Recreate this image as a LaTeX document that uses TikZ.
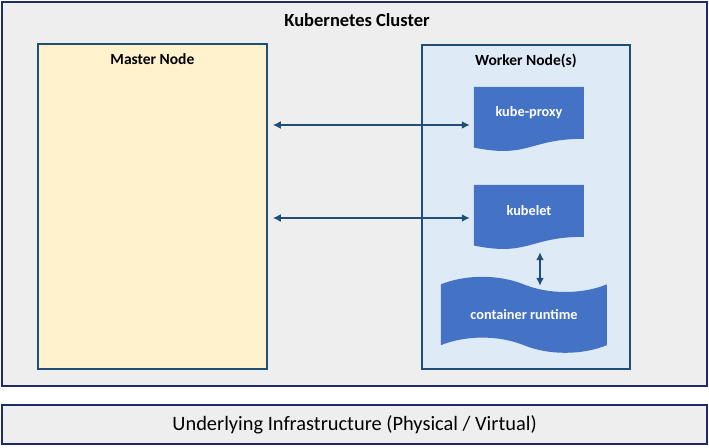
\documentclass[tikz,border=0pt]{standalone}
\usepackage{fontspec}
\setmainfont{Carlito}
\usetikzlibrary{arrows.meta,positioning}

\definecolor{clusterfill}{HTML}{EEEEEE}
\definecolor{navy}{HTML}{1F2A6B}
\definecolor{steel}{HTML}{1F4E79}
\definecolor{masterfill}{HTML}{FFF2CC}
\definecolor{workerfill}{HTML}{DEEBF7}
\definecolor{compblue}{HTML}{4472C4}

% flowchart "document": #1 node, #2 width, #3 height of its text box
\newcommand{\docshape}[3]{%
  \fill[compblue, shift={(#1.north west)}] (0,0) -- (#2,0) -- (#2,#3)
    .. controls (0.5*#2,#3) and (0.5*#2,1.384*#3) .. (0,1.1675*#3) -- cycle;}
% flowchart "punched tape": #1 node, #2 width, #3 height
\newcommand{\tapeshape}[3]{%
  \fill[compblue, shift={(#1.north west)}] (0,0.1*#3)
    .. controls (0.15*#2,-0.0333*#3) and (0.35*#2,-0.0333*#3) .. (0.5*#2,0.1*#3)
    .. controls (0.65*#2,0.2333*#3) and (0.85*#2,0.2333*#3) .. (#2,0.1*#3)
    -- (#2,0.9*#3)
    .. controls (0.85*#2,1.0333*#3) and (0.65*#2,1.0333*#3) .. (0.5*#2,0.9*#3)
    .. controls (0.35*#2,0.7667*#3) and (0.15*#2,0.7667*#3) .. (0,0.9*#3) -- cycle;}

\tikzset{
  panel/.style={draw=navy, line width=2.2pt, fill=clusterfill, anchor=north west, inner sep=0pt},
  nodebox/.style={draw=steel, line width=1.8pt, anchor=north west, inner sep=0pt},
  heading/.style={font=\bfseries\fontsize{15.5}{17}\selectfont, text=black},
  compbox/.style={inner sep=0pt},
  comptext/.style={text=white, font=\bfseries\fontsize{14.3}{16}\selectfont},
  link/.style={draw=steel, line width=1.8pt, {Latex[length=8pt,width=8pt]}-{Latex[length=8pt,width=8pt]}}
}

\begin{document}
\begin{tikzpicture}[x=1pt, y=-1pt]
  \useasboundingbox (0,0) rectangle (709,447);

  % cluster and infrastructure
  \node[panel, minimum width=705pt, minimum height=384pt] (cluster) at (1,1) {};
  \node[font=\bfseries\fontsize{18.5}{21}\selectfont] (clustertitle) at (357,20) {Kubernetes Cluster};
  \node[panel, minimum width=705pt, minimum height=39pt] (infra) at (1,404) {};
  \node[font=\fontsize{20.4}{23}\selectfont] (infratitle) at (infra.center) {Underlying Infrastructure (Physical / Virtual)};

  % master and worker
  \node[nodebox, fill=masterfill, minimum width=229pt, minimum height=325pt] (master) at (37,43) {};
  \node[heading, below=7pt of master.north] (mastertitle) {Master Node};
  \node[nodebox, fill=workerfill, minimum width=208pt, minimum height=324pt] (worker) at (421,44) {};
  \node[heading, below=6pt of worker.north] (workertitle) {Worker Node(s)};

  % worker components
  \node[compbox, minimum width=110pt, minimum height=52pt] (proxy) at (529,113) {};
  \docshape{proxy}{110}{52}
  \node[comptext] (proxylabel) at (proxy.center) {kube-proxy};

  \node[compbox, minimum width=110pt, minimum height=52pt] (kubelet) at (529,211) {};
  \docshape{kubelet}{110}{52}
  \node[comptext] (kubeletlabel) at (kubelet.center) {kubelet};

  \node[compbox, minimum width=166pt, minimum height=76pt] (runtime) at (524,315) {};
  \tapeshape{runtime}{166}{76}
  \node[comptext] (runtimelabel) at (runtime.center) {container runtime};

  % connections
  \draw[link] ([xshift=5pt,yshift=-12pt]master.east |- proxy.west) -- ([xshift=-4pt,yshift=-12pt]proxy.west);
  \draw[link] ([xshift=5pt,yshift=-7pt]master.east |- kubelet.west) -- ([xshift=-4pt,yshift=-7pt]kubelet.west);
  \draw[link] ([xshift=11pt,yshift=-15pt]kubelet.south) -- ([xshift=16pt,yshift=-9pt]runtime.north);
\end{tikzpicture}
\end{document}
